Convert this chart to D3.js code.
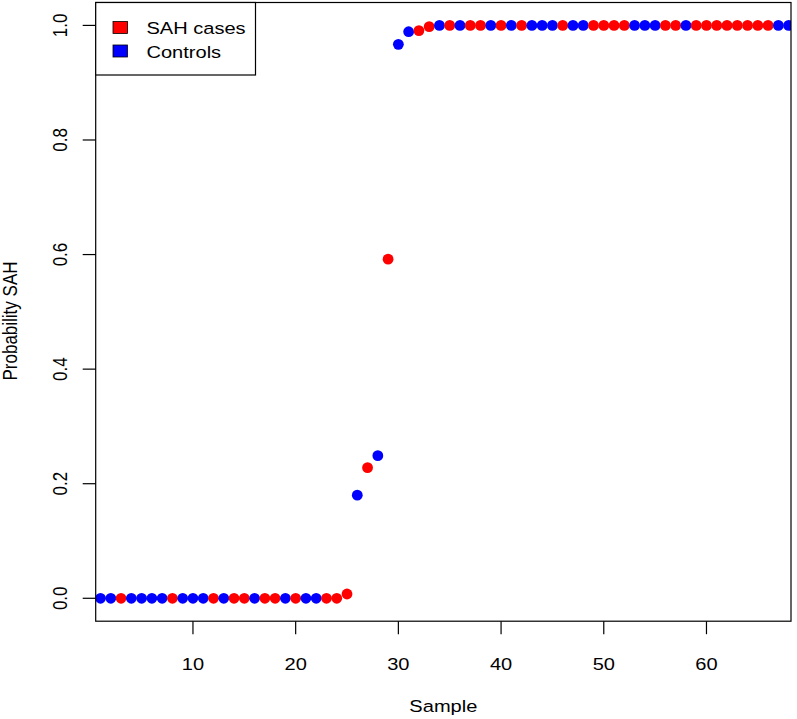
<!DOCTYPE html>
<html><head><meta charset="utf-8">
<script src="https://cdn.jsdelivr.net/npm/d3@7"></script>
<style>body{margin:0;background:#fff}svg{display:block}text{font-family:"Liberation Sans",Arial,Helvetica,sans-serif;fill:#000}</style>
</head><body>
<svg id="c" width="797" height="719"></svg>
<script>
const groups = ["C","C","S","C","C","C","C","S","C","C","C","S","C","S","S","C","S","S","C","S","C","C","S","S","S",
 "C","S","C","S","C","C","S","S","C","S","C","S","S","C","S","C","S","C","C","C","S","C","C","S","S","S","S","C","C","C","S","S","C","S","S","S","S","S","S","S","S","C","C"];
const probs = [0,0,0,0,0,0,0,0,0,0,0,0,0,0,0,0,0,0,0,0,0,0,0,0,0.0075,
 0.180,0.228,0.249,0.592,0.967,0.989,0.991,0.998,1,1,1,1,1,1,1,1,1,1,1,1,1,1,1,1,1,1,1,1,1,1,1,1,1,1,1,1,1,1,1,1,1,1,1];
const xTicks = [10,20,30,40,50,60];
const yTicks = [0,0.2,0.4,0.6,0.8,1.0];
const legendLabels = ["SAH cases","Controls"];
const colors = {S:"#ff0000", C:"#0000ff"};

const L=95.7, R=791, T=2.5, B=621.2;
const SX=1.18, FS=17;
const x = d3.scaleLinear().domain([0.53,68.23]).range([L,R]);
const y = d3.scaleLinear().domain([-0.04,1.04]).range([B,T]);
const svg = d3.select("#c");

const data = probs.map((p,i)=>({i:i+1,p:p,g:groups[i]}));
svg.append("clipPath").attr("id","pc").append("rect").attr("x",L).attr("y",T).attr("width",R-L).attr("height",B-T);
svg.append("g").attr("clip-path","url(#pc)").selectAll("circle").data(data).join("circle")
  .attr("cx",d=>x(d.i)).attr("cy",d=>y(d.p)).attr("r",5.4).attr("fill",d=>colors[d.g]);

// box
svg.append("rect").attr("x",L).attr("y",T).attr("width",R-L).attr("height",B-T).attr("fill","none").attr("stroke","#000").attr("stroke-width",1.2);

// x axis
const xa = svg.append("g");
xa.selectAll("line").data(xTicks).join("line").attr("x1",d=>x(d)).attr("x2",d=>x(d)).attr("y1",B).attr("y2",B+13).attr("stroke","#000").attr("stroke-width",1.2);
xa.selectAll("text").data(xTicks).join("text")
  .attr("transform",d=>`translate(${x(d)},670) scale(${SX},1)`).attr("text-anchor","middle").attr("font-size",FS).text(d=>d);
svg.append("text").attr("transform",`translate(${(L+R)/2},712) scale(${SX},1)`).attr("text-anchor","middle").attr("font-size",FS).text("Sample");

// y axis
const ya = svg.append("g");
ya.selectAll("line").data(yTicks).join("line").attr("x1",L-13).attr("x2",L).attr("y1",d=>y(d)).attr("y2",d=>y(d)).attr("stroke","#000").attr("stroke-width",1.2);
ya.selectAll("text").data(yTicks).join("text")
  .attr("transform",d=>`translate(67,${y(d)}) scale(${SX},1) rotate(-90)`).attr("text-anchor","middle").attr("font-size",FS).text(d=>d.toFixed(1));
svg.append("text").attr("transform",`translate(17,321) scale(${SX},1) rotate(-90)`).attr("text-anchor","middle").attr("font-size",FS).text("Probability SAH");

// legend
const lg = svg.append("g");
lg.append("rect").attr("x",L).attr("y",T).attr("width",255.5-L).attr("height",75-T).attr("fill","#fff").attr("stroke","#000").attr("stroke-width",1.2);
const lc = [colors.S, colors.C];
legendLabels.forEach((t,k)=>{
  lg.append("rect").attr("x",113).attr("y",21.5+k*23.5).attr("width",14.5).attr("height",12).attr("fill",lc[k]).attr("stroke","#000").attr("stroke-width",0.8);
  lg.append("text").attr("transform",`translate(146.5,${34.3+k*23.2}) scale(${SX},1)`).attr("font-size",FS).text(t);
});
</script>
</body></html>
